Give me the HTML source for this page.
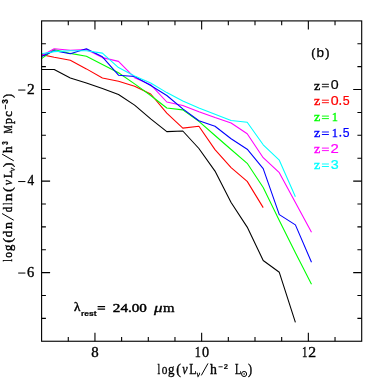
<!DOCTYPE html>
<html><head><meta charset="utf-8"><title>plot</title>
<style>
html,body{margin:0;padding:0;background:#fff;}
body{width:382px;height:382px;overflow:hidden;}
svg{display:block;will-change:transform;}
.s{font-family:"Liberation Serif",serif;}
.n{font-family:"Liberation Sans",sans-serif;}
</style></head><body>
<svg width="382" height="382" viewBox="0 0 382 382">
<rect width="382" height="382" fill="#fff"/>

<polyline points="41.6,69.5 54.2,69.5 70.3,78.0 86.4,82.9 102.4,88.5 118.5,94.5 134.6,105.1 150.7,118.9 166.8,131.6 182.8,131.0 198.9,148.5 215.0,171.1 231.1,202.5 247.2,227.1 263.2,260.5 279.3,272.3 295.4,322.3" fill="none" stroke="#000000" stroke-width="1.08" stroke-linejoin="round"/>
<polyline points="41.6,54.6 54.2,57.3 70.3,60.3 86.4,68.9 102.4,78.0 118.5,81.3 134.6,86.2 150.7,94.0 166.8,113.2 182.8,128.1 198.9,126.2 215.0,149.6 231.1,167.6 247.2,181.4 263.2,207.6" fill="none" stroke="#ff0000" stroke-width="1.08" stroke-linejoin="round"/>
<polyline points="41.6,58.6 54.2,49.5 70.3,53.4 86.4,56.3 102.4,64.6 118.5,72.7 134.6,83.9 150.7,95.5 166.8,108.0 182.8,109.9 198.9,121.3 215.0,135.5 231.1,149.5 247.2,163.3 263.2,187.5 279.3,220.5 295.4,252.7 311.5,284.3" fill="none" stroke="#00ff00" stroke-width="1.08" stroke-linejoin="round"/>
<polyline points="41.6,55.8 54.2,48.7 70.3,50.2 86.4,49.6 102.4,57.6 118.5,61.4 134.6,77.7 150.7,84.7 166.8,102.0 182.8,105.5 198.9,111.8 215.0,117.6 231.1,123.0 247.2,133.7 263.2,157.7 279.3,172.7 295.4,202.5 311.5,232.2" fill="none" stroke="#ff00ff" stroke-width="1.08" stroke-linejoin="round"/>
<polyline points="41.6,56.6 54.2,50.8 70.3,53.8 86.4,48.7 102.4,56.8 118.5,75.2 134.6,76.5 150.7,85.5 166.8,95.5 182.8,108.9 198.9,120.8 215.0,126.3 231.1,138.7 247.2,149.2 263.2,168.6 279.3,214.6 295.4,224.9 311.5,262.2" fill="none" stroke="#0000ff" stroke-width="1.08" stroke-linejoin="round"/>
<polyline points="41.6,53.8 54.2,51.6 70.3,50.7 86.4,50.7 102.4,53.1 118.5,67.6 134.6,76.0 150.7,83.0 166.8,92.6 182.8,101.0 198.9,107.9 215.0,114.3 231.1,120.5 247.2,122.2 263.2,144.8 279.3,160.2 295.4,196.8" fill="none" stroke="#00ffff" stroke-width="1.08" stroke-linejoin="round"/>
<rect x="41.6" y="20.9" width="320.1" height="320.35" fill="none" stroke="#000" stroke-width="1.12"/>
<path d="M68.28,341.25v-4.3M68.28,20.9v4.3M94.95,341.25v-8.5M94.95,20.9v8.5M121.62,341.25v-4.3M121.62,20.9v4.3M148.30,341.25v-4.3M148.30,20.9v4.3M174.97,341.25v-4.3M174.97,20.9v4.3M201.65,341.25v-8.5M201.65,20.9v8.5M228.32,341.25v-4.3M228.32,20.9v4.3M255.00,341.25v-4.3M255.00,20.9v4.3M281.68,341.25v-4.3M281.68,20.9v4.3M308.35,341.25v-8.5M308.35,20.9v8.5M335.03,341.25v-4.3M335.03,20.9v4.3M41.6,43.78h4.3M361.70000000000005,43.78h-4.3M41.6,66.66h4.3M361.70000000000005,66.66h-4.3M41.6,89.55h8.5M361.70000000000005,89.55h-8.5M41.6,112.43h4.3M361.70000000000005,112.43h-4.3M41.6,135.31h4.3M361.70000000000005,135.31h-4.3M41.6,158.19h4.3M361.70000000000005,158.19h-4.3M41.6,181.08h8.5M361.70000000000005,181.08h-8.5M41.6,203.96h4.3M361.70000000000005,203.96h-4.3M41.6,226.84h4.3M361.70000000000005,226.84h-4.3M41.6,249.72h4.3M361.70000000000005,249.72h-4.3M41.6,272.60h8.5M361.70000000000005,272.60h-8.5M41.6,295.49h4.3M361.70000000000005,295.49h-4.3M41.6,318.37h4.3M361.70000000000005,318.37h-4.3" stroke="#000" stroke-width="1.1" fill="none"/>
<g transform="translate(0,373.8)" stroke="#000" stroke-width="0.35">
<text class="s" x="157.51" y="0.00" font-size="14" textLength="2.68" lengthAdjust="spacingAndGlyphs">l</text>
<text class="s" x="161.87" y="0.00" font-size="14" textLength="5.66" lengthAdjust="spacingAndGlyphs">o</text>
<text class="s" x="167.95" y="0.00" font-size="14" textLength="6.49" lengthAdjust="spacingAndGlyphs">g</text>
<text class="s" x="176.30" y="0.00" font-size="14" textLength="4.65" lengthAdjust="spacingAndGlyphs">(</text>
<text class="s" x="182.14" y="0.00" font-size="14" textLength="5.35" lengthAdjust="spacingAndGlyphs" font-style="italic">ν</text>
<text class="s" x="189.17" y="0.00" font-size="14" textLength="7.24" lengthAdjust="spacingAndGlyphs">L</text>
<text class="s" x="196.40" y="3.00" font-size="9" textLength="3.50" lengthAdjust="spacingAndGlyphs" font-style="italic" stroke-width="0.3">ν</text>
<text class="s" x="209.98" y="0.00" font-size="14" textLength="6.90" lengthAdjust="spacingAndGlyphs">h</text>
<text class="n" x="223.64" y="-4.70" font-size="8" textLength="4.26" lengthAdjust="spacingAndGlyphs" font-weight="bold" stroke-width="0.1">2</text>
<text class="s" x="234.91" y="0.00" font-size="14" textLength="6.31" lengthAdjust="spacingAndGlyphs">L</text>
<text class="s" x="248.00" y="0.00" font-size="14" textLength="4.13" lengthAdjust="spacingAndGlyphs">)</text>
<path d="M201.30,1.60L208.00,-10.40" fill="none" stroke-width="1.0"/>
<path d="M218.50,-7.00L222.70,-7.00" fill="none" stroke-width="0.9"/>
<circle cx="244.1" cy="0.2" r="2.55" fill="none" stroke-width="1.0"/><circle cx="244.1" cy="0.2" r="0.75" stroke="none"/>
</g>
<g transform="translate(11.75,261.7) rotate(-90)" stroke="#000" stroke-width="0.4">
<text class="s" x="0.14" y="0.00" font-size="12.8" textLength="2.22" lengthAdjust="spacingAndGlyphs">l</text>
<text class="s" x="4.07" y="0.00" font-size="12.8" textLength="5.66" lengthAdjust="spacingAndGlyphs">o</text>
<text class="s" x="10.66" y="0.00" font-size="12.8" textLength="6.38" lengthAdjust="spacingAndGlyphs">g</text>
<text class="s" x="18.90" y="0.00" font-size="12.8" textLength="4.65" lengthAdjust="spacingAndGlyphs">(</text>
<text class="s" x="24.55" y="0.00" font-size="12.8" textLength="6.31" lengthAdjust="spacingAndGlyphs">d</text>
<text class="s" x="32.69" y="0.00" font-size="12.8" textLength="7.02" lengthAdjust="spacingAndGlyphs">n</text>
<text class="s" x="49.41" y="0.00" font-size="12.8" textLength="5.42" lengthAdjust="spacingAndGlyphs">d</text>
<text class="s" x="56.85" y="0.00" font-size="12.8" textLength="2.10" lengthAdjust="spacingAndGlyphs">l</text>
<text class="s" x="60.55" y="0.00" font-size="12.8" textLength="7.88" lengthAdjust="spacingAndGlyphs">n</text>
<text class="s" x="69.68" y="0.00" font-size="12.8" textLength="4.78" lengthAdjust="spacingAndGlyphs">(</text>
<text class="s" x="76.44" y="0.00" font-size="12.8" textLength="5.35" lengthAdjust="spacingAndGlyphs" font-style="italic">ν</text>
<text class="s" x="83.78" y="0.00" font-size="12.8" textLength="7.01" lengthAdjust="spacingAndGlyphs">L</text>
<text class="s" x="90.40" y="3.00" font-size="9" textLength="3.50" lengthAdjust="spacingAndGlyphs" font-style="italic" stroke-width="0.3">ν</text>
<text class="s" x="94.45" y="0.00" font-size="12.8" textLength="4.65" lengthAdjust="spacingAndGlyphs">)</text>
<text class="s" x="108.58" y="0.00" font-size="12.8" textLength="6.80" lengthAdjust="spacingAndGlyphs">h</text>
<text class="n" x="116.96" y="-3.70" font-size="8.2" textLength="3.46" lengthAdjust="spacingAndGlyphs" font-weight="bold" stroke-width="0.25">3</text>
<text class="s" x="128.14" y="0.00" font-size="12.8" textLength="8.23" lengthAdjust="spacingAndGlyphs">M</text>
<text class="s" x="137.71" y="0.00" font-size="12.8" textLength="5.96" lengthAdjust="spacingAndGlyphs">p</text>
<text class="s" x="145.01" y="0.00" font-size="12.8" textLength="5.67" lengthAdjust="spacingAndGlyphs">c</text>
<text class="n" x="157.92" y="-3.70" font-size="8.2" textLength="4.57" lengthAdjust="spacingAndGlyphs" font-weight="bold" stroke-width="0.25">3</text>
<text class="s" x="163.60" y="0.00" font-size="12.8" textLength="4.13" lengthAdjust="spacingAndGlyphs">)</text>
<path d="M41.50,2.00L48.20,-9.70" fill="none" stroke-width="1.0"/>
<path d="M100.90,2.00L107.60,-9.70" fill="none" stroke-width="1.0"/>
<path d="M152.40,-6.30L157.00,-6.30" fill="none" stroke-width="0.9"/>
</g>
<g transform="translate(0,56.8)" stroke="#000" stroke-width="0.35">
<text class="s" x="311.50" y="-0.30" font-size="13" textLength="3.87" lengthAdjust="spacingAndGlyphs" stroke-width="0.45">(</text>
<text class="n" x="316.63" y="0.00" font-size="12" textLength="7.52" lengthAdjust="spacingAndGlyphs" stroke-width="0.25">b</text>
<text class="s" x="325.32" y="-0.30" font-size="13" textLength="4.00" lengthAdjust="spacingAndGlyphs" stroke-width="0.45">)</text>
</g>
<g transform="translate(0,89.5)" fill="#000" stroke="#000" stroke-width="0.35">
<text class="s" x="313.93" y="0.00" font-size="12.5" textLength="6.26" lengthAdjust="spacingAndGlyphs" stroke-width="0.4">z</text>
<path d="M321.90,-5.2H328.90M321.90,-2.7H328.90" fill="none" stroke-width="0.95"/>
<text class="n" x="330.65" y="-0.35" font-size="12.4" textLength="7.90" lengthAdjust="spacingAndGlyphs" stroke-width="0.2">0</text>
</g>
<g transform="translate(0,105.4)" fill="#f00" stroke="#f00" stroke-width="0.35">
<text class="s" x="313.93" y="0.00" font-size="12.5" textLength="6.26" lengthAdjust="spacingAndGlyphs" stroke-width="0.4">z</text>
<path d="M321.90,-5.2H328.90M321.90,-2.7H328.90" fill="none" stroke-width="0.95"/>
<text class="n" x="330.65" y="-0.35" font-size="12.4" textLength="7.90" lengthAdjust="spacingAndGlyphs" stroke-width="0.2">0</text>
<circle cx="340.25" cy="-1.4" r="0.95" stroke="none"/>
<text class="n" x="342.70" y="-0.35" font-size="12.4" textLength="6.91" lengthAdjust="spacingAndGlyphs" stroke-width="0.2">5</text>
</g>
<g transform="translate(0,121.3)" fill="#0f0" stroke="#0f0" stroke-width="0.35">
<text class="s" x="313.93" y="0.00" font-size="12.5" textLength="6.26" lengthAdjust="spacingAndGlyphs" stroke-width="0.4">z</text>
<path d="M321.90,-5.2H328.90M321.90,-2.7H328.90" fill="none" stroke-width="0.95"/>
<text class="s" x="331.82" y="-0.35" font-size="13.2" textLength="6.23" lengthAdjust="spacingAndGlyphs" stroke-width="0.3">1</text>
</g>
<g transform="translate(0,137.2)" fill="#00f" stroke="#00f" stroke-width="0.35">
<text class="s" x="313.93" y="0.00" font-size="12.5" textLength="6.26" lengthAdjust="spacingAndGlyphs" stroke-width="0.4">z</text>
<path d="M321.90,-5.2H328.90M321.90,-2.7H328.90" fill="none" stroke-width="0.95"/>
<text class="s" x="331.82" y="-0.35" font-size="13.2" textLength="6.23" lengthAdjust="spacingAndGlyphs" stroke-width="0.3">1</text>
<circle cx="340.35" cy="-1.4" r="0.95" stroke="none"/>
<text class="n" x="342.81" y="-0.35" font-size="12.4" textLength="6.79" lengthAdjust="spacingAndGlyphs" stroke-width="0.2">5</text>
</g>
<g transform="translate(0,153.3)" fill="#f0f" stroke="#f0f" stroke-width="0.35">
<text class="s" x="313.93" y="0.00" font-size="12.5" textLength="6.26" lengthAdjust="spacingAndGlyphs" stroke-width="0.4">z</text>
<path d="M321.90,-5.2H328.90M321.90,-2.7H328.90" fill="none" stroke-width="0.95"/>
<text class="n" x="330.45" y="-0.35" font-size="12.4" textLength="8.29" lengthAdjust="spacingAndGlyphs" stroke-width="0.2">2</text>
</g>
<g transform="translate(0,169.2)" fill="#0ff" stroke="#0ff" stroke-width="0.35">
<text class="s" x="313.93" y="0.00" font-size="12.5" textLength="6.26" lengthAdjust="spacingAndGlyphs" stroke-width="0.4">z</text>
<path d="M321.90,-5.2H328.90M321.90,-2.7H328.90" fill="none" stroke-width="0.95"/>
<text class="n" x="330.66" y="-0.35" font-size="12.4" textLength="7.96" lengthAdjust="spacingAndGlyphs" stroke-width="0.2">3</text>
</g>
<g transform="translate(0,311.5)" stroke="#000" stroke-width="0.35">
<text class="s" x="73.96" y="-0.30" font-size="13" textLength="6.41" lengthAdjust="spacingAndGlyphs" stroke-width="0.45">λ</text>
<text class="n" x="81.05" y="4.30" font-size="6.5" textLength="15.45" lengthAdjust="spacingAndGlyphs" font-weight="bold" stroke-width="0.2">rest</text>
<text class="s" x="112.85" y="0.10" font-size="12.8" textLength="34.02" lengthAdjust="spacingAndGlyphs" stroke-width="0.45">24.00</text>
<text class="s" x="154.10" y="0.00" font-size="12" textLength="8.54" lengthAdjust="spacingAndGlyphs" font-style="italic" stroke-width="0.35">μ</text>
<text class="s" x="162.99" y="0.00" font-size="12" textLength="11.53" lengthAdjust="spacingAndGlyphs" stroke-width="0.35">m</text>
<path d="M97.60,-5.0H105.10M97.60,-2.35H105.10" fill="none" stroke-width="1.25"/>
</g>
<g stroke="#000" stroke-width="0.35">
<text class="s" x="91.24" y="356.70" font-size="14.0" textLength="7.43" lengthAdjust="spacingAndGlyphs">8</text>
<text class="s" x="194.74" y="356.70" font-size="14.0" textLength="6.09" lengthAdjust="spacingAndGlyphs">1</text>
<text class="s" x="201.96" y="356.70" font-size="14.0" textLength="7.08" lengthAdjust="spacingAndGlyphs">0</text>
<text class="s" x="302.06" y="356.70" font-size="14.0" textLength="5.38" lengthAdjust="spacingAndGlyphs">1</text>
<text class="s" x="308.33" y="356.70" font-size="14.0" textLength="7.84" lengthAdjust="spacingAndGlyphs">2</text>
<path d="M18.20,90.05L25.40,90.05" fill="none" stroke-width="1.0"/>
<text class="s" x="27.04" y="93.50" font-size="14.0" textLength="7.71" lengthAdjust="spacingAndGlyphs">2</text>
<path d="M18.20,181.55L25.40,181.55" fill="none" stroke-width="1.0"/>
<text class="s" x="27.45" y="185.00" font-size="14.0" textLength="6.65" lengthAdjust="spacingAndGlyphs">4</text>
<path d="M18.20,273.05L25.40,273.05" fill="none" stroke-width="1.0"/>
<text class="s" x="27.09" y="276.50" font-size="14.0" textLength="7.23" lengthAdjust="spacingAndGlyphs">6</text>
</g>
</svg></body></html>
